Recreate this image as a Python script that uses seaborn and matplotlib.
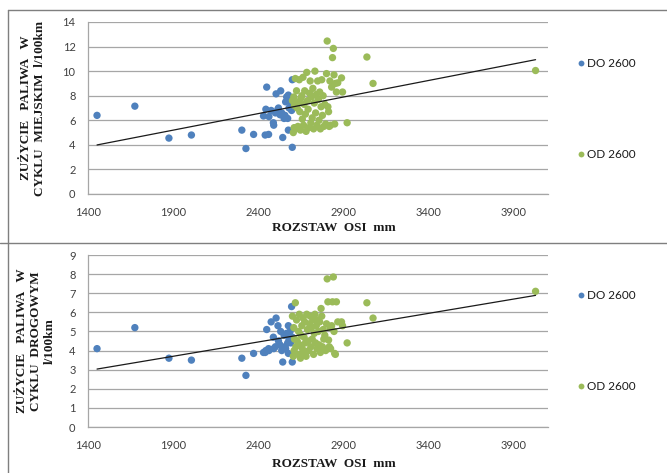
import numpy as np
import pandas as pd
import matplotlib
matplotlib.use("Agg")
import matplotlib.pyplot as plt
import seaborn as sns
from matplotlib.lines import Line2D

# ---------------- data ----------------
groups = ["DO 2600", "OD 2600"]
colors = ["#4F81BD", "#9BBB59"]

do_x = [1453, 1675, 1875, 2007, 2303, 2327, 2372, 2430, 2440, 2444, 2449, 2460,
        2462, 2475, 2488, 2490, 2500, 2504, 2515, 2518, 2527, 2531, 2537, 2543,
        2551, 2556, 2560, 2566, 2572, 2576, 2576, 2580, 2586, 2590, 2595, 2599, 2599]
do_city = [6.4, 7.15, 4.55, 4.8, 5.2, 3.7, 4.85, 6.35, 4.8, 6.9, 8.7, 4.85,
           6.3, 6.8, 5.8, 5.6, 6.6, 8.15, 6.9, 7.0, 6.45, 8.4, 6.6, 4.6,
           6.15, 6.4, 7.5, 7.9, 6.15, 8.05, 5.2, 7.0, 7.6, 7.1, 6.8, 9.3, 3.8]
do_hwy = [4.1, 5.2, 3.6, 3.5, 3.6, 2.7, 3.85, 3.9, 3.9, 4.0, 5.1, 4.1,
          4.0, 5.5, 4.7, 4.1, 4.2, 5.7, 5.3, 4.5, 4.3, 5.0, 4.0, 3.4,
          4.8, 4.2, 4.1, 4.9, 4.4, 5.3, 3.85, 4.6, 5.0, 4.4, 6.3, 3.4, 4.7]

od_x = [2600, 2605, 2608, 2610, 2612, 2617, 2620, 2624, 2628, 2632, 2636, 2640,
        2643, 2647, 2650, 2655, 2658, 2662, 2665, 2668, 2672, 2676, 2680, 2684,
        2688, 2692, 2696, 2700, 2704, 2708, 2712, 2716, 2720, 2724, 2728, 2732,
        2736, 2740, 2744, 2748, 2752, 2756, 2760, 2764, 2768, 2772, 2776, 2780,
        2784, 2790, 2795, 2800, 2804, 2808, 2812, 2816, 2820, 2824, 2830, 2835,
        2840, 2844, 2848, 2852, 2858, 2866, 2888, 2894, 2921, 3037, 3073, 4027]
od_city = [7.6, 5.0, 7.9, 5.4, 7.2, 9.4, 5.3, 8.4, 7.0, 5.5, 7.5, 9.3,
           6.7, 5.2, 7.8, 8.0, 6.1, 9.5, 5.6, 7.3, 8.4, 6.5, 5.1, 9.9,
           7.6, 6.9, 5.4, 8.2, 9.2, 5.8, 7.9, 6.2, 8.6, 5.3, 7.4, 10.0,
           6.6, 8.1, 5.6, 9.2, 7.7, 6.0, 8.3, 5.3, 7.1, 9.3, 6.4, 8.0,
           5.5, 7.3, 5.7, 9.8, 12.45, 7.1, 6.7, 5.5, 9.2, 5.6, 8.7, 11.1,
           11.85, 9.7, 5.7, 9.0, 8.3, 9.05, 9.45, 8.3, 5.8, 11.15, 9.0, 10.05]
od_hwy = [5.8, 3.7, 5.2, 4.0, 4.6, 6.5, 4.2, 5.6, 4.5, 3.8, 5.0, 5.9,
          4.3, 3.6, 4.8, 5.3, 4.1, 5.7, 3.9, 4.7, 5.5, 4.4, 3.7, 5.9,
          5.1, 4.5, 4.0, 5.4, 5.8, 4.2, 5.2, 4.6, 5.6, 3.8, 4.9, 5.9,
          4.4, 5.3, 4.1, 5.6, 5.0, 4.3, 5.5, 3.9, 6.2, 5.8, 4.2, 5.1,
          4.6, 4.8, 4.0, 5.4, 7.75, 6.55, 4.55, 4.2, 5.2, 4.1, 5.3, 6.55,
          7.85, 5.0, 3.85, 3.8, 6.55, 5.5, 5.5, 5.3, 4.4, 6.5, 5.7, 7.1]

x_ticks = [1400, 1900, 2400, 2900, 3400, 3900]
x_limits = [1400, 4100]
top_yticks = [0, 2, 4, 6, 8, 10, 12, 14]
bot_yticks = [0, 1, 2, 3, 4, 5, 6, 7, 8, 9]

xlabel = "ROZSTAW  OSI  mm"
ylabel_top = "ZUŻYCIE   PALIWA   W\nCYKLU  MIEJSKIM  l/100km"
ylabel_bot = "ZUŻYCIE   PALIWA   W\nCYKLU  DROGOWYM\nl/100km"

df = pd.DataFrame({
    "x": do_x + od_x,
    "city": do_city + od_city,
    "hwy": do_hwy + od_hwy,
    "grupa": [groups[0]] * len(do_x) + [groups[1]] * len(od_x),
})

# ---------------- figure ----------------
sns.set_theme(style="white")
plt.rcParams["font.family"] = ["Lato", "DejaVu Sans"]

W, H = 667, 473
fig = plt.figure(figsize=(W / 100, H / 100), dpi=100)


def rect(l, t, r, b):
    return [l / W, 1 - b / H, (r - l) / W, (b - t) / H]


ax1 = fig.add_axes(rect(88, 22, 548, 194))
ax2 = fig.add_axes(rect(88, 255, 548, 427))

GRID = "#A6A6A6"
TICKC = "#404040"
serif = ["Liberation Serif", "DejaVu Serif"]

for ax, col, yt, ylab, ylab_x, leg_y in [
    (ax1, "city", top_yticks, ylabel_top, 33, (63, 152)),
    (ax2, "hwy", bot_yticks, ylabel_bot, 36, (295, 384)),
]:
    sns.scatterplot(data=df, x="x", y=col, hue="grupa", hue_order=groups,
                    palette=colors, s=28, edgecolor="none", linewidth=0,
                    ax=ax, legend=False, zorder=3)
    sns.regplot(data=df, x="x", y=col, scatter=False, ci=None, truncate=True,
                line_kws=dict(color="#1a1a1a", lw=0.9, zorder=4), ax=ax)
    ax.set_xlim(*x_limits)
    ax.set_ylim(yt[0], yt[-1])
    ax.set_xticks(x_ticks)
    ax.set_yticks(yt)
    ax.set_xlabel("")
    ax.set_ylabel("")
    ax.yaxis.grid(True, color=GRID, lw=0.9)
    ax.xaxis.grid(False)
    ax.set_axisbelow(True)
    for s in ["top", "right"]:
        ax.spines[s].set_visible(False)
    for s in ["left", "bottom"]:
        ax.spines[s].set_color(GRID)
        ax.spines[s].set_linewidth(0.9)
    ax.tick_params(axis="both", length=0, labelsize=8, colors=TICKC)
    ax.tick_params(axis="x", pad=9)
    ax.tick_params(axis="y", pad=9)

    # y label
    ycen = (ax.get_position().y0 + ax.get_position().y1) / 2
    fig.text(ylab_x / W, ycen, ylab, rotation=90, ha="center", va="center",
             family=serif, fontweight="bold", fontsize=9.5, color="#1a1a1a",
             linespacing=1.2)

    # legend
    handles = [Line2D([], [], marker="o", ls="none", color=c, markersize=4.2,
                      markeredgewidth=0) for c in colors]
    leg = ax.legend(handles, groups, loc="upper left",
                    bbox_to_anchor=(575 / W, 1 - (leg_y[0] - 5) / H),
                    bbox_transform=fig.transFigure, frameon=False,
                    labelspacing=6.75, handletextpad=0.05, handlelength=1.0,
                    fontsize=8.5, borderpad=0, borderaxespad=0)
    for t in leg.get_texts():
        t.set_color("#1a1a1a")

# x labels
fig.text(334 / W, 1 - 228 / H, xlabel, ha="center", va="center",
         family=serif, fontweight="bold", fontsize=9.5, color="#1a1a1a")
fig.text(334 / W, 1 - 464 / H, xlabel, ha="center", va="center",
         family=serif, fontweight="bold", fontsize=9.5, color="#1a1a1a")

# chart borders
BORDER = "#7F7F7F"
fig.add_artist(Line2D([8 / W, 1], [1 - 10 / H] * 2, transform=fig.transFigure,
                      color=BORDER, lw=1.0))
fig.add_artist(Line2D([0, 1], [1 - 243 / H] * 2, transform=fig.transFigure,
                      color=BORDER, lw=1.0))
fig.add_artist(Line2D([8 / W] * 2, [1 - 10 / H, 0], transform=fig.transFigure,
                      color=BORDER, lw=1.0))

fig.savefig("out.png", dpi=100)
